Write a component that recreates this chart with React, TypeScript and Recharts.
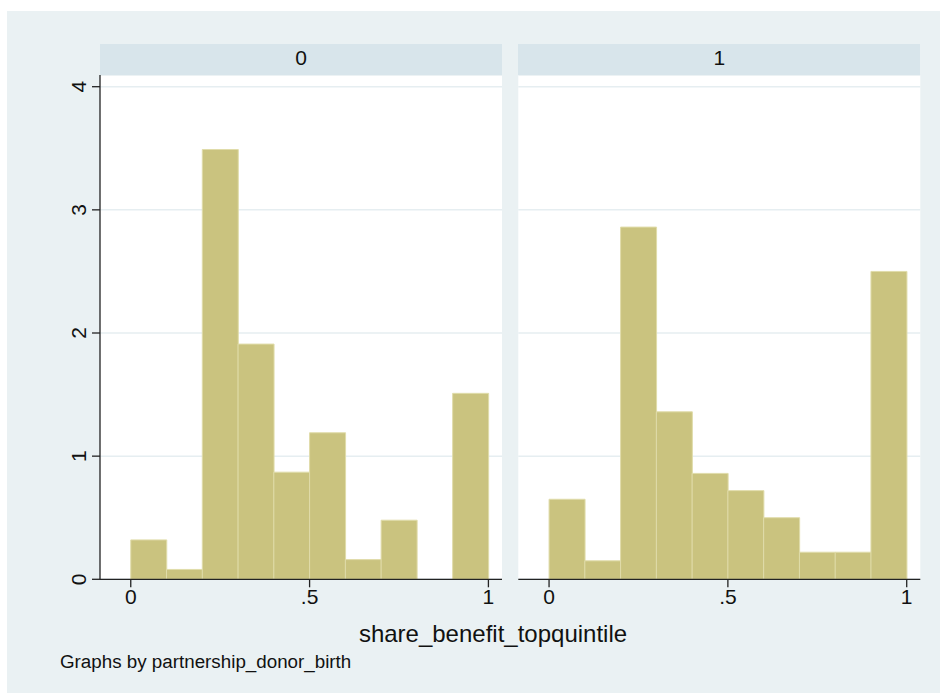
import { ComposedChart, Bar, XAxis, YAxis, CartesianGrid } from 'recharts';

// histogram densities, bins of width .1 from 0 to 1 (x = bin midpoint)
const binMids = [0.05, 0.15, 0.25, 0.35, 0.45, 0.55, 0.65, 0.75, 0.85, 0.95];
const density0 = [0.32, 0.08, 3.49, 1.91, 0.87, 1.19, 0.16, 0.48, 0, 1.51];
const density1 = [0.65, 0.15, 2.86, 1.36, 0.86, 0.72, 0.5, 0.22, 0.22, 2.5];
const groupNames = ['0', '1'];
const xTicks = [0, 0.5, 1];
const xTickLabels: Record<number, string> = { 0: '0', 0.5: '.5', 1: '1' };
const yTicks = [0, 1, 2, 3, 4];

const X_DOMAIN: [number, number] = [-0.086, 1.038];
const Y_DOMAIN: [number, number] = [0, 4.095];
const PLOT_W = 402;

const FONT = '"Liberation Sans", Arial, Helvetica, sans-serif';
const BAR_FILL = '#cac37f';
const BAR_LINE = '#e0dcaa';
const GRID = '#e6eef1';
const OUTER_BG = '#eaf1f3';
const STRIP_BG = '#d8e5eb';

function YTick({ x, y, payload }: any) {
  return (
    <text
      transform={`translate(${x - 4}, ${y}) rotate(-90)`}
      textAnchor="middle"
      fontSize={21}
      fontFamily={FONT}
      fill="#111"
    >
      {payload.value}
    </text>
  );
}

function XTick({ x, y, payload }: any) {
  return (
    <text x={x} y={y + 15} textAnchor="middle" fontSize={21} fontFamily={FONT} fill="#111">
      {xTickLabels[payload.value] ?? payload.value}
    </text>
  );
}

interface PanelProps {
  values: number[];
  left: number;
  width: number;
  marginLeft: number;
  showY: boolean;
}

function Panel({ values, left, width, marginLeft, showY }: PanelProps) {
  const data = binMids.map((mid, i) => ({ mid, v: values[i] }));
  const yW = showY ? 40 : 0;
  const right = width - marginLeft - yW - PLOT_W;
  return (
    <div style={{ position: 'absolute', left, top: 0 }}>
      <ComposedChart
        width={width}
        height={640}
        data={data}
        margin={{ top: 75, right, bottom: 20.7, left: marginLeft }}
        barCategoryGap={0}
        barGap={0}
      >
        <CartesianGrid vertical={false} stroke={GRID} strokeWidth={1.5} fill="#ffffff" fillOpacity={1} />
        <XAxis
          dataKey="mid"
          type="number"
          domain={X_DOMAIN}
          ticks={xTicks}
          allowDataOverflow
          height={40}
          tickSize={8}
          axisLine={{ stroke: '#222', strokeWidth: 1.3 }}
          tickLine={{ stroke: '#222', strokeWidth: 1.3 }}
          tick={<XTick />}
        />
        <YAxis
          domain={Y_DOMAIN}
          ticks={yTicks}
          allowDataOverflow
          hide={!showY}
          width={yW}
          tickSize={8}
          axisLine={{ stroke: '#222', strokeWidth: 1.3 }}
          tickLine={{ stroke: '#222', strokeWidth: 1.3 }}
          tick={<YTick />}
        />
        <Bar
          dataKey="v"
          fill={BAR_FILL}
          stroke={BAR_LINE}
          strokeWidth={1}
          isAnimationActive={false}
        />
      </ComposedChart>
    </div>
  );
}

const stripStyle = (left: number): React.CSSProperties => ({
  position: 'absolute',
  left,
  top: 44,
  width: PLOT_W,
  height: 31,
  lineHeight: '28px',
  background: STRIP_BG,
  textAlign: 'center',
  fontSize: 21,
  fontFamily: FONT,
  color: '#111',
});

export default function App() {
  return (
    <div style={{ position: 'absolute', left: 0, top: 0, width: 940, height: 693, background: '#fff', overflow: 'hidden' }}>
      <div style={{ position: 'absolute', left: 7, top: 11, width: 933, height: 682, background: OUTER_BG }} />
      <Panel values={density0} left={0} width={520} marginLeft={60} showY />
      <Panel values={density1} left={510} width={430} marginLeft={8.3} showY={false} />
      <div style={stripStyle(100)}>{groupNames[0]}</div>
      <div style={stripStyle(518.3)}>{groupNames[1]}</div>
      <div
        style={{
          position: 'absolute',
          left: 493,
          top: 634,
          transform: 'translate(-50%, -50%)',
          whiteSpace: 'nowrap',
          fontSize: 24,
          fontFamily: FONT,
          color: '#111',
        }}
      >
        share_benefit_topquintile
      </div>
      <div
        style={{
          position: 'absolute',
          left: 60,
          top: 662,
          transform: 'translateY(-50%)',
          whiteSpace: 'nowrap',
          fontSize: 18.8,
          fontFamily: FONT,
          color: '#111',
        }}
      >
        Graphs by partnership_donor_birth
      </div>
    </div>
  );
}
